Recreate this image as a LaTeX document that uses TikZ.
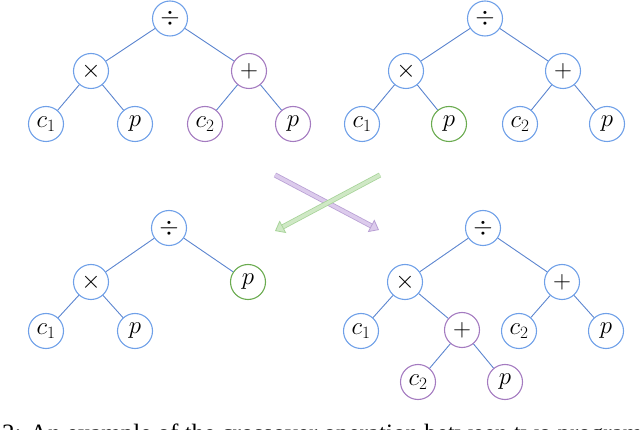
\documentclass[tikz,border=0pt]{standalone}
\usepackage{fontspec}
\newfontfamily\capfont{Liberation Serif}
\usetikzlibrary{arrows.meta}
\definecolor{nblue}{HTML}{6FA0E8}
\definecolor{npurple}{HTML}{A47BC0}
\definecolor{ngreen}{HTML}{6AAB4F}
\definecolor{eblue}{HTML}{5C85CF}
\definecolor{pborder}{HTML}{B9A0D4}
\definecolor{pfill}{HTML}{DCCBEC}
\definecolor{gborder}{HTML}{A8D49A}
\definecolor{gfill}{HTML}{CFE8C5}
\tikzset{
  tnode/.style={circle, draw=nblue, line width=1.1pt, minimum size=35pt, inner sep=0pt, font=\fontsize{27}{30}\selectfont},
  pnode/.style={tnode, draw=npurple},
  gnode/.style={tnode, draw=ngreen},
  edge/.style={draw=eblue, line width=0.9pt},
  parrow/.style={draw=pborder, double=pfill, double distance=3.5pt, line width=0.8pt,
     -{Triangle[length=9pt, width=14pt, fill=pfill]}},
  garrow/.style={draw=gborder, double=gfill, double distance=3.5pt, line width=0.8pt,
     -{Triangle[length=9pt, width=14pt, fill=gfill]}},
}
\begin{document}
\begin{tikzpicture}[x=1pt, y=-1pt]
\useasboundingbox (0,0) rectangle (640,430);
\clip (0,0) rectangle (640,430);
% top-left tree
\node[tnode] (a0) at (170,18.5) {$\div$};
\node[tnode] (a1) at (91,71) {$\times$};
\node[pnode] (a2) at (249,71) {$+$};
\node[tnode] (a3) at (46,124) {$c_1$};
\node[tnode] (a4) at (135,124) {$p$};
\node[pnode] (a5) at (205,124) {$c_2$};
\node[pnode] (a6) at (293,124) {$p$};
\draw[edge] (a0) -- (a1); \draw[edge] (a0) -- (a2);
\draw[edge] (a1) -- (a3); \draw[edge] (a1) -- (a4);
\draw[edge] (a2) -- (a5); \draw[edge] (a2) -- (a6);
% top-right tree
\node[tnode] (b0) at (485,18.5) {$\div$};
\node[tnode] (b1) at (406,71) {$\times$};
\node[tnode] (b2) at (563,71) {$+$};
\node[tnode] (b3) at (362,124) {$c_1$};
\node[gnode] (b4) at (449,124) {$p$};
\node[tnode] (b5) at (520,124) {$c_2$};
\node[tnode] (b6) at (607,124) {$p$};
\draw[edge] (b0) -- (b1); \draw[edge] (b0) -- (b2);
\draw[edge] (b1) -- (b3); \draw[edge] (b1) -- (b4);
\draw[edge] (b2) -- (b5); \draw[edge] (b2) -- (b6);
% bottom-left tree
\node[tnode] (c0) at (169,228) {$\div$};
\node[tnode] (c1) at (91,282) {$\times$};
\node[gnode] (c2) at (248,282) {$p$};
\node[tnode] (c3) at (46,331) {$c_1$};
\node[tnode] (c4) at (135,331) {$p$};
\draw[edge] (c0) -- (c1); \draw[edge] (c0) -- (c2);
\draw[edge] (c1) -- (c3); \draw[edge] (c1) -- (c4);
% bottom-right tree
\node[tnode] (d0) at (483,228) {$\div$};
\node[tnode] (d1) at (405,282) {$\times$};
\node[tnode] (d2) at (562,282) {$+$};
\node[tnode] (d3) at (361,331) {$c_1$};
\node[pnode] (d4) at (462,330) {$+$};
\node[tnode] (d5) at (519,331) {$c_2$};
\node[tnode] (d6) at (606,331) {$p$};
\node[pnode] (d7) at (418,382) {$c_2$};
\node[pnode] (d8) at (505,382) {$p$};
\draw[edge] (d0) -- (d1); \draw[edge] (d0) -- (d2);
\draw[edge] (d1) -- (d3); \draw[edge] (d1) -- (d4);
\draw[edge] (d2) -- (d5); \draw[edge] (d2) -- (d6);
\draw[edge] (d4) -- (d7); \draw[edge] (d4) -- (d8);
% crossover arrows
\coordinate (ps) at (275,175);
\coordinate (pe) at (379,230);
\coordinate (gs) at (380,175);
\coordinate (ge) at (275,231);
\draw[parrow] (ps) -- (pe);
\draw[garrow] (gs) -- (ge);
% caption (cut off at the bottom)
\node[anchor=base west, inner sep=0pt, font=\capfont\fontsize{25}{28}\selectfont] (cap) at (2,441)
  {2: An example of the crossover operation between two programs i};
\end{tikzpicture}
\end{document}
